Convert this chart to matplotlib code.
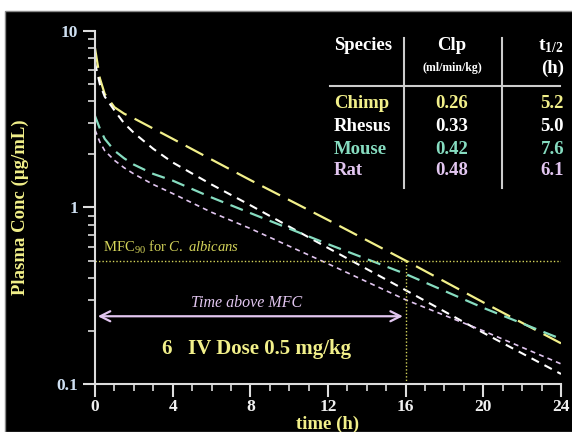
import matplotlib
matplotlib.use('Agg')
import matplotlib.pyplot as plt
from matplotlib.patches import Rectangle
from matplotlib.ticker import FixedLocator, MultipleLocator, NullFormatter

plt.rcParams['font.family'] = ['Liberation Serif', 'DejaVu Serif']
plt.rcParams['mathtext.fontset'] = 'custom'
plt.rcParams['mathtext.rm'] = 'Liberation Serif'
plt.rcParams['mathtext.it'] = 'Liberation Serif:italic'
plt.rcParams['mathtext.bf'] = 'Liberation Serif:bold'

# concentration-time profiles (ug/mL)
time_h = [0, 0.25, 0.5, 1, 1.5, 2, 3, 4, 6, 8, 12, 16, 20, 24]
chimp = [8.0, 5.4, 4.4, 3.7, 3.4, 3.2, 2.8, 2.45, 1.87, 1.43, 0.85, 0.50, 0.29, 0.17]
rhesus = [6.6, 5.0, 4.25, 3.55, 3.0, 2.65, 2.15, 1.80, 1.35, 1.03, 0.59, 0.34, 0.195, 0.114]
mouse = [3.3, 2.8, 2.45, 2.1, 1.9, 1.75, 1.55, 1.42, 1.14, 0.93, 0.62, 0.42, 0.27, 0.18]
rat = [2.75, 2.35, 2.1, 1.85, 1.68, 1.55, 1.35, 1.2, 0.94, 0.76, 0.48, 0.30, 0.20, 0.13]

species = ['Chimp', 'Rhesus', 'Mouse', 'Rat']
clp = ['0.26', '0.33', '0.42', '0.48']
t_half = ['5.2', '5.0', '7.6', '6.1']

mfc = 0.5
t_above = 16
xticks = [0, 4, 8, 12, 16, 20, 24]

YEL = '#f2f08a'
WHT = '#ffffff'
TEAL = '#86dcc0'
LAV = '#e2c6f0'
DOT = '#d4d45a'

fig = plt.figure(figsize=(5.72, 4.32), dpi=100)
fig.patch.set_facecolor('white')
fig.patches.append(Rectangle((5/572, 0), 1, 1 - 11/432, transform=fig.transFigure,
                             facecolor='black', edgecolor='#888888', lw=1, zorder=-5))

ax = fig.add_axes([95/572, 1 - 384/432, 466/572, (384 - 31)/432])
ax.set_zorder(2)
ax.set_facecolor('none')
ax.set_yscale('log')
ax.set_xlim(0, 24)
ax.set_ylim(0.1, 10)

ax.plot(time_h, chimp, color=YEL, lw=1.6, dashes=(9, 4))
ax.plot(time_h, rhesus, color=WHT, lw=1.5, dashes=(4, 3))
ax.plot(time_h, mouse, color=TEAL, lw=1.6, dashes=(6, 3.5))
ax.plot(time_h, rat, color=LAV, lw=1.2, dashes=(3, 2.5))

ax.plot([0, 24], [mfc, mfc], color=DOT, lw=1, ls=(0, (1, 1.5)))
ax.plot([t_above, t_above], [0.1, mfc], color=DOT, lw=1, ls=(0, (1, 1.5)))
ax.text(0.4, 0.53, r'MFC$_{90}$ for $C.\ albicans$', color=DOT, fontsize=10.5, va='bottom')

ax.annotate('', xy=(0, 0.242), xytext=(t_above, 0.242),
            arrowprops=dict(arrowstyle='<->', color=LAV, lw=1.6, mutation_scale=18))
ax.text(7.8, 0.258, 'Time above MFC', color=LAV, fontsize=11.5, style='italic',
        ha='center', va='bottom')
ax.text(3.4, 0.158, '6', color=YEL, fontsize=15, fontweight='bold', va='center')
ax.text(4.8, 0.158, 'IV Dose 0.5 mg/kg', color=YEL, fontsize=15, fontweight='bold', va='center')

for s in ['top', 'right']:
    ax.spines[s].set_visible(False)
for s in ['left', 'bottom']:
    ax.spines[s].set_color('#dddddd')
    ax.spines[s].set_linewidth(1.5)

ax.xaxis.set_major_locator(FixedLocator(xticks))
ax.xaxis.set_minor_locator(MultipleLocator(1))
ax.set_xticklabels([str(v) for v in xticks])
ax.set_yticks([0.1, 1, 10])
ax.set_yticklabels(['0.1', '1', '10'])
ax.yaxis.set_minor_formatter(NullFormatter())
ax.tick_params(which='major', length=9, width=1.5, color='#dddddd', direction='out')
ax.tick_params(which='minor', length=5, width=1.2, color='#dddddd', direction='out')
ax.tick_params(axis='x', colors='#dddddd', labelcolor='#f0f0f0', labelsize=12.5, pad=2)
ax.tick_params(axis='y', colors='#dddddd', labelcolor='#cfe0f2', labelsize=12.5, pad=3)
for lab in ax.get_xticklabels() + ax.get_yticklabels():
    lab.set_fontweight('bold')

ax.set_xlabel('time (h)', color=YEL, fontsize=13.5, fontweight='bold', labelpad=0)
ax.set_ylabel('Plasma Conc (µg/mL)', color=YEL, fontsize=13.5, fontweight='bold', labelpad=20)

# summary table, placed in figure pixels
def fx(px):
    return px / 572

def fy(py):
    return 1 - py / 432

fig.text(fx(334), fy(46), 'Species', color=WHT, fontsize=13.5, fontweight='bold', va='center')
fig.text(fx(452), fy(46), 'Clp', color=WHT, fontsize=13.5, fontweight='bold', va='center', ha='center')
fig.text(fx(452), fy(68), '(ml/min/kg)', color=WHT, fontsize=8.5, fontweight='bold', va='center', ha='center')
fig.text(fx(564), fy(46), r'$\mathbf{t_{1/2}}$', color=WHT, fontsize=14, va='center', ha='right')
fig.text(fx(564), fy(68), '(h)', color=WHT, fontsize=13.5, fontweight='bold', va='center', ha='right')

fig.add_artist(plt.Line2D([fx(330), fx(560)], [fy(86), fy(86)], color='#cccccc', lw=1.5))
fig.add_artist(plt.Line2D([fx(404), fx(404)], [fy(38), fy(188)], color='#cccccc', lw=1.5))
fig.add_artist(plt.Line2D([fx(502), fx(502)], [fy(38), fy(188)], color='#cccccc', lw=1.5))

row_colors = [YEL, WHT, TEAL, LAV]
row_y = [104, 127, 149, 171]
for name, c, t, col, py in zip(species, clp, t_half, row_colors, row_y):
    fig.text(fx(334), fy(py), name, color=col, fontsize=13.5, fontweight='bold', va='center')
    fig.text(fx(452), fy(py), c, color=col, fontsize=13.5, fontweight='bold', va='center', ha='center')
    fig.text(fx(564), fy(py), t, color=col, fontsize=13.5, fontweight='bold', va='center', ha='right')

fig.savefig('out.png', dpi=100, facecolor=fig.get_facecolor())
